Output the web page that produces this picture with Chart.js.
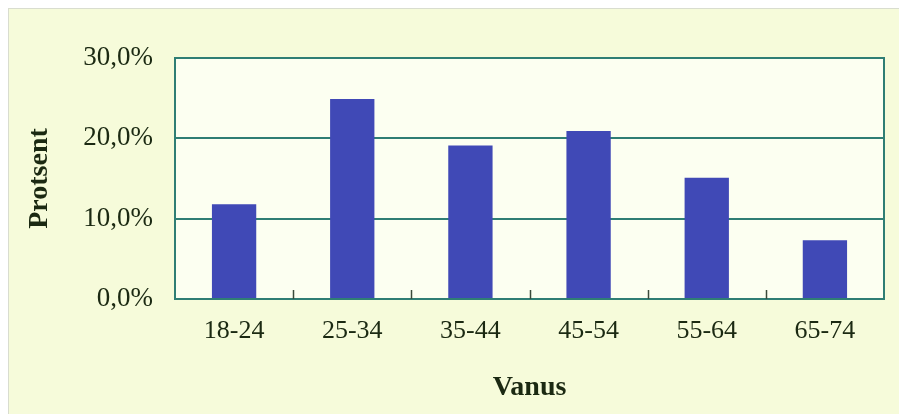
<!DOCTYPE html>
<html>
<head>
<meta charset="utf-8">
<script src="https://cdn.jsdelivr.net/npm/chart.js@4"></script>
<style>
    body { margin: 0; background: #ffffff; width: 899px; height: 414px; overflow: hidden; }
    .frame {
        position: absolute; left: 8px; top: 8px; width: 890px; height: 405px;
        background: #f6fbda; border-left: 1px solid #d9ddcf; border-top: 1px solid #d9ddcf;
    }
    canvas { display: block; }
</style>
</head>
<body>
<div class="frame"><canvas id="myChart" width="890" height="405"></canvas></div>
<script>
const ageGroups = ['18-24', '25-34', '35-44', '45-54', '55-64', '65-74'];
const percentValues = [11.8, 24.9, 19.1, 20.9, 15.1, 7.3];
const yTicks = [0, 10, 20, 30];

const textColor = '#1b2912';
const lineColor = '#2f7e74';

// white-ish plot background and teal frame + small inner ticks between bars
const plotFrame = {
    id: 'plotFrame',
    beforeDraw(chart) {
        const a = chart.chartArea, ctx = chart.ctx;
        ctx.save();
        ctx.fillStyle = '#fcfff1';
        ctx.fillRect(a.left, a.top, a.right - a.left, a.bottom - a.top);
        ctx.restore();
    },
    afterDatasetsDraw(chart) {
        const a = chart.chartArea, ctx = chart.ctx;
        const x = chart.scales.x;
        ctx.save();
        ctx.strokeStyle = lineColor;
        ctx.lineWidth = 2;
        ctx.strokeRect(a.left, a.top, a.right - a.left, a.bottom - a.top);
        ctx.strokeStyle = '#3a4a3a';
        ctx.lineWidth = 1.5;
        for (let i = 1; i < ageGroups.length; i++) {
            const px = Math.round(x.getPixelForValue(i - 0.5)) + 0.5;
            ctx.beginPath();
            ctx.moveTo(px, a.bottom);
            ctx.lineTo(px, a.bottom - 9);
            ctx.stroke();
        }
        ctx.restore();
    }
};

const data = {
    labels: ageGroups,
    datasets: [{
        data: percentValues,
        backgroundColor: '#4049b6',
        borderWidth: 0,
        categoryPercentage: 1,
        barPercentage: 0.375
    }]
};

const config = {
    type: 'bar',
    data: data,
    options: {
        responsive: false,
        animation: false,
        layout: { padding: { top: 49, right: 15, left: 0, bottom: 0 } },
        plugins: { legend: { display: false }, tooltip: { enabled: false } },
        scales: {
            x: {
                grid: { display: false, drawTicks: false },
                border: { display: false },
                ticks: {
                    color: textColor, padding: 17,
                    font: { family: 'Liberation Serif', size: 26 }
                },
                title: {
                    display: true, text: 'Vanus', color: textColor,
                    padding: { top: 0, bottom: 9 },
                    font: { family: 'Liberation Serif', size: 28, weight: 'bold' }
                },
                afterFit(scale) { scale.height = 115; }
            },
            y: {
                min: 0, max: 30,
                afterBuildTicks(scale) { scale.ticks = yTicks.map(v => ({ value: v })); },
                grid: { color: lineColor, lineWidth: 2, drawTicks: false },
                border: { display: false },
                ticks: {
                    color: textColor, padding: 22,
                    font: { family: 'Liberation Serif', size: 27 },
                    callback: v => v.toFixed(1).replace('.', ',') + '%'
                },
                title: {
                    display: true, text: 'Protsent', color: textColor,
                    padding: { top: 14, bottom: 0 },
                    font: { family: 'Liberation Serif', size: 28, weight: 'bold' }
                },
                afterFit(scale) { scale.width = 166; }
            }
        }
    },
    plugins: [plotFrame]
};

const myChart = new Chart(document.getElementById('myChart').getContext('2d'), config);
</script>
</body>
</html>
